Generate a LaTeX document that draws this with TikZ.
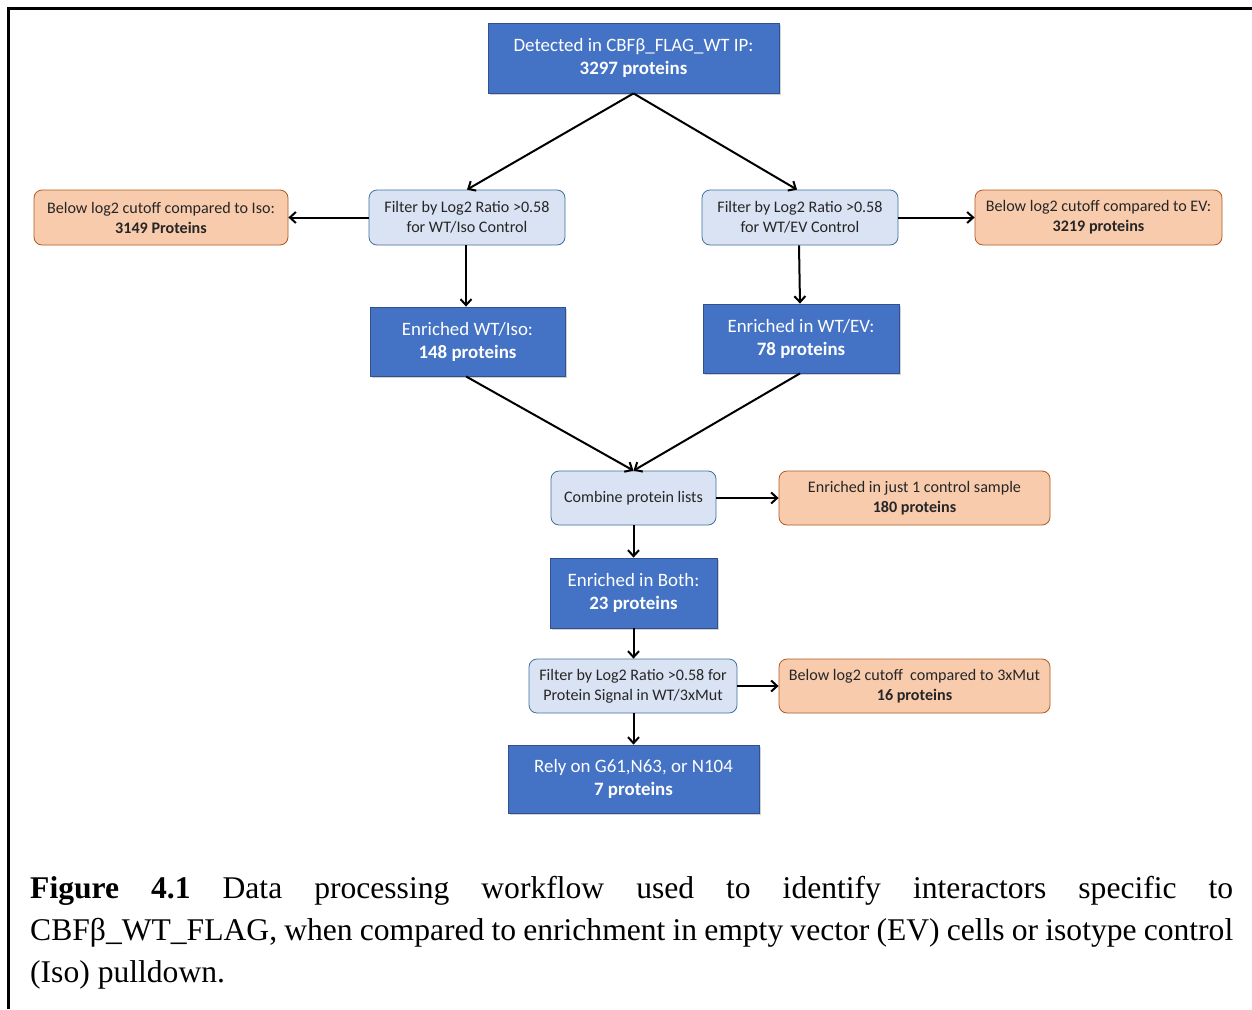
\documentclass[tikz,border=0pt]{standalone}
\usepackage{fontspec}
\setmainfont{Liberation Serif}
\newfontfamily\calib{Carlito}
\usetikzlibrary{arrows.meta,shadows}
\definecolor{bluefill}{HTML}{4472C4}
\definecolor{blueline}{HTML}{2F528F}
\definecolor{lightfill}{HTML}{DAE3F3}
\definecolor{lightline}{HTML}{41719C}
\definecolor{orangefill}{HTML}{F8CBAD}
\definecolor{orangeline}{HTML}{AE5A21}
\definecolor{darktext}{HTML}{262626}
\begin{document}
\begin{tikzpicture}[x=1pt,y=-1pt,
  bluebox/.style={draw=blueline, line width=0.8pt, fill=bluefill, text=white, align=center,
    font=\calib\fontsize{18.9}{23}\selectfont, inner sep=0pt,
    drop shadow={shadow xshift=1.5pt, shadow yshift=-1.5pt, opacity=0.35}},
  lightbox/.style={draw=lightline, line width=0.8pt, fill=lightfill, text=darktext, align=center,
    rounded corners=8pt, font=\calib\fontsize{16.1}{20}\selectfont, inner sep=0pt},
  orangebox/.style={draw=orangeline, line width=0.8pt, fill=orangefill, text=darktext, align=center,
    rounded corners=8pt, font=\calib\fontsize{16.1}{20}\selectfont, inner sep=0pt},
  conn/.style={line width=2pt, -{Straight Barb[length=6pt,width=11pt,line width=2pt]}}
]
\useasboundingbox (0,0) rectangle (1252,1009);
\fill[white] (0,0) rectangle (1252,1009);
\draw[line width=2.5pt] (8.5,1009) -- (8.5,8.5) -- (1252,8.5);

\node[bluebox, minimum width=291, minimum height=70] (top) at (633.5,58) {Detected in CBFβ\_FLAG\_WT IP:\\\textbf{3297 proteins}};
\node[lightbox, minimum width=196, minimum height=55] (filtIso) at (467,217.5) {Filter by Log2 Ratio >0.58\\for WT/Iso Control};
\node[orangebox, minimum width=254, minimum height=55] (belowIso) at (161,217.5) {Below log2 cutoff compared to Iso:\\\textbf{3149 Proteins}};
\node[lightbox, minimum width=196, minimum height=55] (filtEV) at (800,217.5) {Filter by Log2 Ratio >0.58\\for WT/EV Control};
\node[orangebox, minimum width=247, minimum height=55] (belowEV) at (1098.5,217.5) {Below log2 cutoff compared to EV:\\\textbf{3219 proteins}};
\node[bluebox, minimum width=195, minimum height=69] (enrIso) at (467.5,341.5) {Enriched WT/Iso:\\\textbf{148 proteins}};
\node[bluebox, minimum width=196, minimum height=69] (enrEV) at (801,338.5) {Enriched in WT/EV:\\\textbf{78 proteins}};
\node[lightbox, minimum width=165, minimum height=54] (combine) at (633.5,498) {Combine protein lists};
\node[orangebox, minimum width=271, minimum height=54] (enrOne) at (914.5,498) {Enriched in just 1 control sample\\\textbf{180 proteins}};
\node[bluebox, minimum width=167, minimum height=70] (both) at (633.5,593) {Enriched in Both:\\\textbf{23 proteins}};
\node[lightbox, minimum width=208, minimum height=54] (filtMut) at (633,686) {Filter by Log2 Ratio >0.58 for\\Protein Signal in WT/3xMut};
\node[orangebox, minimum width=271, minimum height=54] (belowMut) at (914.5,686) {Below log2 cutoff~ compared to 3xMut\\\textbf{16 proteins}};
\node[bluebox, minimum width=251, minimum height=68] (rely) at (633.5,779) {Rely on G61,N63, or N104\\\textbf{7 proteins}};

\draw[conn] (top.south) -- (filtIso.north);
\draw[conn] (top.south) -- ([xshift=-3pt]filtEV.north);
\draw[conn] (filtIso.west) -- (belowIso.east);
\draw[conn] (filtEV.east) -- (belowEV.west);
\draw[conn] ([xshift=-1pt]filtIso.south) -- ([xshift=-1.5pt]enrIso.north);
\draw[conn] ([xshift=-1pt]filtEV.south) -- ([xshift=-1pt]enrEV.north);
\draw[conn] ([xshift=-1.5pt]enrIso.south) -- (combine.north);
\draw[conn] ([xshift=-1pt]enrEV.south) -- (combine.north);
\draw[conn] (combine.east) -- (enrOne.west);
\draw[conn] (combine.south) -- (both.north);
\draw[conn] (both.south) -- ([xshift=0.5pt]filtMut.north);
\draw[conn] (filtMut.east) -- (belowMut.west);
\draw[conn] ([xshift=0.5pt]filtMut.south) -- (rely.north);

\node[anchor=north west, text width=1203pt, align=justify, inner sep=0pt,
  font=\fontsize{31.6}{42}\selectfont] (caption) at (30,876)
  {\textbf{Figure 4.1} Data processing workflow used to identify interactors specific to\linebreak
   CBFβ\_WT\_FLAG, when compared to enrichment in empty vector (EV) cells or isotype control\linebreak
   (Iso) pulldown.};
\end{tikzpicture}
\end{document}
